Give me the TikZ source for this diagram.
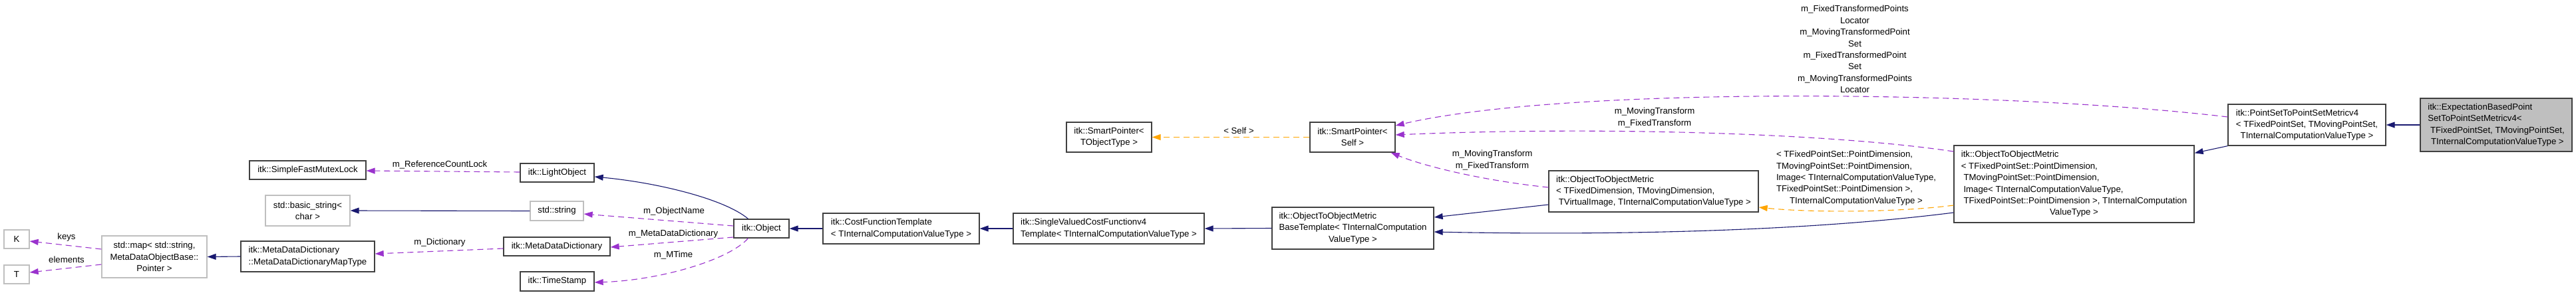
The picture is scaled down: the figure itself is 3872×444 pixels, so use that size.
\documentclass[tikz,border=0pt]{standalone}
\usepackage{fontspec}
\setmainfont{Liberation Sans}
\usetikzlibrary{arrows.meta}
\definecolor{dxEdge}{HTML}{404040}
\definecolor{dxGray}{HTML}{BFBFBF}
\definecolor{dxBlue}{HTML}{191970}
\definecolor{dxPurp}{HTML}{9A32CD}
\definecolor{dxOrng}{HTML}{FFA500}
% lines flush left, last line centred
\newcommand{\dlines}[2]{\begin{tabular}{@{}l@{}}#1\\\multicolumn{1}{@{}c@{}}{#2}\end{tabular}}

\begin{document}
\begin{tikzpicture}[
      x=1pt, y=-1pt,
      font=\fontsize{13.2}{17.4}\selectfont,
      >={Triangle[length=13pt, width=9pt]},
      cls/.style={draw=dxEdge, line width=1.3pt, fill=white, inner sep=2pt, align=center},
      extcls/.style={cls, draw=dxGray},
      curcls/.style={cls, fill=dxGray},
      sz/.style 2 args={minimum width=#1pt, minimum height=#2pt},
      inh/.style={->, dxBlue, line width=1.1pt},
      usage/.style={->, dxPurp, line width=1.1pt, dash pattern=on 9pt off 6pt},
      tmpl/.style={->, dxOrng, line width=1.1pt, dash pattern=on 9pt off 6pt},
      elbl/.style={inner sep=0pt, align=center},
    ]
    \path[fill=white, use as bounding box] (0,0) rectangle (3872,444);

    % ---------- left: std containers ----------
    \node[extcls, sz={38}{28}]  (kkey)    at (25,360)    {K};
    \node[extcls, sz={38}{28}]  (tval)    at (25,413)    {T};
    \node[extcls, sz={158}{63}] (stdmap)  at (232,386.5) {std::map< std::string,\\ MetaDataObjectBase::\\Pointer >};
    \node[cls, sz={201}{46}, align=left] (maptype) at (462.5,386) {itk::MetaDataDictionary\\::MetaDataDictionaryMapType};
    \node[cls, sz={175}{28}]    (mutex)   at (462.5,256)  {itk::SimpleFastMutexLock};
    \node[extcls, sz={127}{46}] (basicstr) at (462.5,317) {std::basic\_string<\\char >};

    % ---------- itk::Object and its members ----------
    \node[cls, sz={111}{28}]    (lightobj)  at (837.5,260)   {itk::LightObject};
    \node[extcls, sz={80}{29}]  (stdstring) at (837,317.5)   {std::string};
    \node[cls, sz={160}{28}]    (mdd)       at (837,371)     {itk::MetaDataDictionary};
    \node[cls, sz={111}{29}]    (timestamp) at (837.5,423.5) {itk::TimeStamp};
    \node[cls, sz={83}{28}]     (object)    at (1144.5,344)  {itk::Object};

    % ---------- cost function chain ----------
    \node[cls, sz={235}{46}, align=left] (costfn)    at (1354.5,344) {itk::CostFunctionTemplate\\< TInternalComputationValueType >};
    \node[cls, sz={287}{46}, align=left] (singleval) at (1666.5,344) {itk::SingleValuedCostFunctionv4\\Template< TInternalComputationValueType >};
    \node[cls, sz={128}{45}] (sptobj)  at (1667,206.5) {itk::SmartPointer<\\TObjectType >};
    \node[cls, sz={128}{45}] (sptself) at (2033,206.5) {itk::SmartPointer<\\Self >};
    \node[cls, sz={243}{63}] (basetmpl) at (2033.5,343.5)
      {\dlines{itk::ObjectToObjectMetric\\BaseTemplate< TInternalComputation}{ValueType >}};
    \node[cls, sz={315}{62}] (o2ometric) at (2485.5,288)
      {\dlines{itk::ObjectToObjectMetric\\< TFixedDimension, TMovingDimension,}{\ TVirtualImage, TInternalComputationValueType >}};
    \node[cls, sz={361}{116}] (o2opointset) at (3117.5,277)
      {\dlines{itk::ObjectToObjectMetric\\< TFixedPointSet::PointDimension,\\\ TMovingPointSet::PointDimension,\\\ Image< TInternalComputationValueType,\\\ TFixedPointSet::PointDimension >, TInternalComputation}{ValueType >}};
    \node[cls, sz={237}{62}] (pointset) at (3467.5,188)
      {\dlines{itk::PointSetToPointSetMetricv4\\< TFixedPointSet, TMovingPointSet,}{TInternalComputationValueType >}};
    \node[curcls, sz={228}{80}] (expect) at (3752,188)
      {\dlines{itk::ExpectationBasedPoint\\SetToPointSetMetricv4<\\\ TFixedPointSet, TMovingPointSet,}{\ TInternalComputationValueType >}};

    % ---------- inheritance ----------
    \draw[inh] (maptype.west) -- (stdmap.east);
    \draw[inh] (stdstring.west) -- (basicstr.east);
    \draw[inh] ([xshift=-20pt]object.north) .. controls (1090,300) and (990,275) .. ([yshift=-6pt]lightobj.east);
    \draw[inh] (costfn.west) -- (object.east);
    \draw[inh] (singleval.west) -- (costfn.east);
    \draw[inh] (basetmpl.west) -- (singleval.east);
    \draw[inh] ([yshift=-20pt]o2ometric.west) -- ([yshift=16.5pt]basetmpl.east);
    \draw[inh] ([yshift=-43pt]o2opointset.west) .. controls (2700,350) and (2400,354) .. ([yshift=-5.5pt]basetmpl.east);
    \draw[inh] (pointset.south west) -- ([yshift=-12pt]o2opointset.north east);
    \draw[inh] (expect.west) -- (pointset.east);

    % ---------- template instances ----------
    \draw[tmpl] (sptself.west) -- (sptobj.east);
    \draw[tmpl] ([yshift=-32pt]o2opointset.west) .. controls (2850,320) and (2720,320) .. ([yshift=-24pt]o2ometric.east);

    % ---------- members ----------
    \draw[usage] ([yshift=11.5pt]stdmap.west) -- ([yshift=-3pt]kkey.east);
    \draw[usage] ([yshift=-11.5pt]stdmap.west) -- ([yshift=3pt]tval.east);
    \draw[usage] ([yshift=-3pt]mdd.west) -- ([yshift=4pt]maptype.east);
    \draw[usage] ([yshift=1pt]lightobj.west) -- ([yshift=-1pt]mutex.east);
    \draw[usage] ([yshift=4pt]object.west) -- ([yshift=-4.5pt]stdstring.east);
    \draw[usage] ([yshift=-13pt]object.west) -- ([yshift=-1pt]mdd.east);
    \draw[usage] ([xshift=-20pt]object.south) .. controls (1095,392) and (990,422) .. ([yshift=-1.5pt]timestamp.east);
    \draw[usage] ([yshift=6pt]o2ometric.west) .. controls (2230,272) and (2140,250) .. ([xshift=-7pt]sptself.south east);
    \draw[usage] ([yshift=49pt]o2opointset.west) .. controls (2750,200) and (2400,190) .. ([yshift=3.5pt]sptself.east);
    \draw[usage] ([yshift=12pt]pointset.west) .. controls (3000,135) and (2350,130) .. ([yshift=17.5pt]sptself.east);

    % ---------- edge labels ----------
    \node[elbl] (lkeys)  at (100,357)  {keys};
    \node[elbl] (lelem)  at (100,391)  {elements};
    \node[elbl] (lrefc)  at (661,248)  {m\_ReferenceCountLock};
    \node[elbl] (ldict)  at (661,365)  {m\_Dictionary};
    \node[elbl] (lname)  at (1013,318) {m\_ObjectName};
    \node[elbl] (lmdd)   at (1012,352) {m\_MetaDataDictionary};
    \node[elbl] (lmtime) at (1012,384) {m\_MTime};
    \node[elbl] (lself)  at (1862,197) {< Self >};
    \node[elbl] (ltrlo)  at (2243,241) {m\_MovingTransform\\m\_FixedTransform};
    \node[elbl] (ltrhi)  at (2487,177) {m\_MovingTransform\\m\_FixedTransform};
    \node[elbl] (lpts)   at (2788,74)
      {m\_FixedTransformedPoints\\Locator\\m\_MovingTransformedPoint\\Set\\m\_FixedTransformedPoint\\Set\\m\_MovingTransformedPoints\\Locator};
    \node[elbl] (ltmpl)  at (2790,268)
      {\dlines{< TFixedPointSet::PointDimension,\\TMovingPointSet::PointDimension,\\Image< TInternalComputationValueType,\\TFixedPointSet::PointDimension >,}{TInternalComputationValueType >}};

  \end{tikzpicture}
\end{document}
